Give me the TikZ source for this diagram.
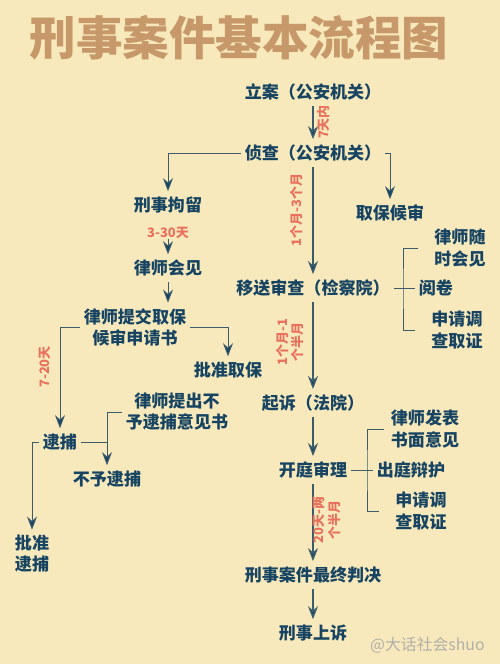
\documentclass[tikz,border=0pt]{standalone}
\usepackage{fontspec}
\newfontfamily\cjk{Noto Sans CJK SC}[BoldFont={Noto Sans CJK SC Black}]
\usepackage{xcolor}
\usetikzlibrary{positioning,arrows.meta}
\definecolor{bgyellow}{RGB}{248,233,188}
\definecolor{titletan}{RGB}{198,152,106}
\definecolor{textblue}{RGB}{22,68,98}
\definecolor{linegrey}{RGB}{60,92,108}
\definecolor{timered}{RGB}{232,112,92}
\tikzset{
  box/.style={font=\cjk\bfseries\fontsize{9.7}{12}\selectfont,text=textblue,inner xsep=2pt,inner ysep=3pt,align=center},
  timelbl/.style={font=\cjk\bfseries\fontsize{7.4}{9}\selectfont,text=timered,inner sep=0pt,align=center},
  ln/.style={draw=linegrey,line width=0.55pt},
  arr/.style={draw=linegrey,line width=0.8pt,-{Stealth[length=2.6mm,width=2mm,fill=textblue]}},
  brarr/.style={draw=linegrey,line width=0.55pt,-{Stealth[length=2.6mm,width=2mm,fill=textblue]}}
}

\begin{document}
\begin{tikzpicture}[x=0.02cm,y=-0.02cm]
\fill[bgyellow] (0,0) rectangle (500,664); % background
% Title
\node[font=\cjk\bfseries\fontsize{26.5}{30}\selectfont,text=titletan] (title) at (239,38) {刑事案件基本流程图};
% Main column
\node[box] (la) at (313,92) {立案（公安机关）};
\node[box] (zc) at (313,153) {侦查（公安机关）};
\node[box] (ys) at (313,288) {移送审查（检察院）};
\node[box] (qs) at (313,403) {起诉（法院）};
\node[box] (kt) at (313,470) {开庭审理};
\node[box] (pj) at (313,575) {刑事案件最终判决};
\node[box] (ss) at (313,633) {刑事上诉};
\draw[arr] (la.south) -- (zc.north);
\draw[arr] (zc.south) -- (ys.north);
\draw[arr] (ys.south) -- (qs.north);
\draw[arr] (qs.south) -- (kt.north);
\draw[arr] (kt.south) -- (pj.north);
\draw[arr] (pj.south) -- (ss.north);
\node[timelbl,rotate=90] (t7) at (324,122) {7天内};
\node[timelbl,rotate=90] (t13) at (297,210) {1个月-3个月};
\node[timelbl,rotate=90] (t11) at (290,342) {1个月-1\\个半月};
\node[timelbl,rotate=90] (t20) at (327,520) {20天-两\\个半月};
% Left column
\node[box] (jl) at (168,205) {刑事拘留};
\node[timelbl,below = 1.6mm of jl] (t330) {3-30天};
\node[box] (hj) at (168,268) {律师会见};
\node[box] (tj) at (135,327) {律师提交取保\\候审申请书};
\node[box] (pz) at (228,370) {批准取保};
\node[box] (db) at (60,442) {逮捕};
\node[box] (bd) at (177,412) {律师提出不\\予逮捕意见书};
\node[box] (bydb) at (107,479) {不予逮捕};
\node[box] (pzdb) at (32,554) {批准\\逮捕};
\node[timelbl,rotate=90] (t720) at (45,367) {7-20天};
\draw[brarr] (zc.west) -| (jl.north); % to detention
\draw[brarr] (t330.south -| hj.north) -- (hj.north);
\draw[brarr] (hj.south) -- (hj.south |- tj.north);
\draw[brarr] (tj.west) -| (db.north); % arrest
\draw[brarr] (tj.east) -| (pz.north); % bail granted
\draw[brarr] (bd.west) -| (bydb.north); % no arrest
\draw[ln] (db.east) -- (db.east -| bydb.north);
\draw[brarr] (db.west) -| (pzdb.north); % arrest approved
% Right side
\node[box] (qb) at (390,213) {取保候审};
\draw[brarr] (zc.east) -| (qb.north);
\node[box] (sh) at (460,248) {律师随\\时会见};
\node[box] (yj) at (436,288) {阅卷};
\node[box] (dc1) at (457,330) {申请调\\查取证};
\coordinate (b1) at (403,288);
\draw[ln] (ys.east) -- (yj.west);
\draw[ln,shorten <=7pt,shorten >=7pt] (sh.west) -| (b1) |- (dc1.west);
\node[box] (fb) at (425,429) {律师发表\\书面意见};
\node[box] (bh) at (411,470) {出庭辩护};
\node[box] (dc2) at (421,511) {申请调\\查取证};
\coordinate (b2) at (367,470);
\draw[ln] (kt.east) -- (bh.west);
\draw[ln,shorten <=2pt,shorten >=7pt] (fb.west) -| (b2) |- (dc2.west);
% watermark
\node[font=\cjk\fontsize{9}{10}\selectfont,text=white!80!bgyellow!70!black,anchor=west] (wm) at (364,645) {@大话社会shuo};
\end{tikzpicture}
\end{document}
